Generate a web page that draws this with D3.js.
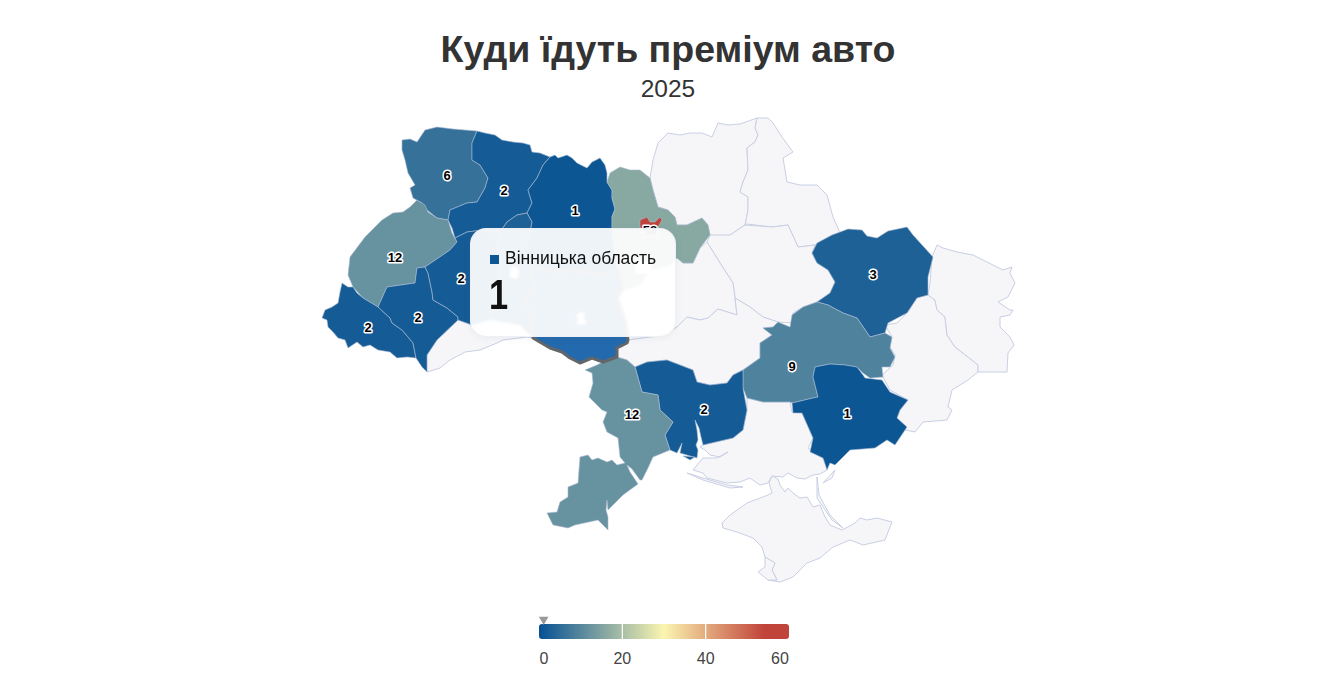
<!DOCTYPE html>
<html lang="uk"><head><meta charset="utf-8">
<script src="https://cdn.jsdelivr.net/npm/d3@7/dist/d3.min.js"></script>
<style>
html,body{margin:0;padding:0;background:#fff;overflow:hidden}
body{width:1323px;height:689px;position:relative;font-family:"Liberation Sans",Arial,sans-serif}
svg{position:absolute;left:0;top:0}
#tip{position:absolute;left:470px;top:228px;width:206px;height:109px;box-sizing:border-box;border-radius:16px;
background:rgba(255,255,255,.93);border:1px solid rgba(235,238,243,.9);box-shadow:0 1px 6px rgba(120,130,150,.10);
-webkit-backdrop-filter:blur(1px);backdrop-filter:blur(1px)}
#tip .mark{position:absolute;left:19px;top:26px;width:9px;height:9px}
#tip .name{position:absolute;left:34px;top:19px;font-size:17.5px;line-height:20px;color:#111;white-space:nowrap}
#tip .val{position:absolute;left:18px;top:43px;font-size:42px;line-height:46px;font-weight:700;color:#111;transform:scaleX(.82);transform-origin:left top}
</style></head><body>
<svg id="chart" width="1323" height="689"></svg>
<div id="tip"><span class="mark"></span><span class="name"></span><span class="val"></span></div>
<script>
const titleText = "Куди їдуть преміум авто";
const subtitleText = "2025";
const legendTicks = [0, 20, 40, 60];
const colorStops = [0, 30, 54, 60];
const colorRange = ["#055093", "#fbf5b0", "#c1443a", "#c1443a"];
const hovered = "Вінницька область";
const labelsUnderTooltip = ["Хмельницька область","Вінницька область","Київська область"];

const regionNames = ["Чернігівська область","Сумська область","Полтавська область","Черкаська область","Кіровоградська область","Херсонська область","Автономна Республіка Крим","Севастополь","Чернівецька область","Донецька область","Луганська область","Волинська область","Рівненська область","Житомирська область","Львівська область","Закарпатська область","Івано-Франківська область","Тернопільська область","Хмельницька область","Київська область","Харківська область","Дніпропетровська область","Запорізька область","Миколаївська область","Одеська область","Вінницька область","місто Київ"];
const regionValues = [null,null,null,null,null,null,null,null,null,null,null,6,2,1,12,2,2,2,3,16,3,9,1,2,12,1,58];

const regionLabelAt = {"Волинська область":[447,175],"Рівненська область":[504,190],"Житомирська область":[575,210],"Львівська область":[395,257],"Закарпатська область":[368,327],"Івано-Франківська область":[418,317],"Тернопільська область":[461,278],"Хмельницька область":[514,272],"Вінницька область":[581,318],"місто Київ":[650,230],"Київська область":[643,267],"Харківська область":[873,274],"Дніпропетровська область":[792,366],"Запорізька область":[847,413],"Миколаївська область":[704,409],"Одеська область":[632,414]};

// region outlines, map units
const regionOutlines = {
"Чернігівська область":[[[653,160],[658,143],[668,133],[680,135],[690,133],[702,133],[712,137],[718,123],[728,125],[740,124],[757,118],[755,128],[758,135],[755,142],[747,148],[748,170],[743,182],[740,192],[748,197],[748,210],[745,225],[730,235],[720,236],[710,235],[708,225],[702,218],[687,225],[677,225],[675,217],[668,210],[658,207],[653,190],[650,178]]],
"Сумська область":[[[757,118],[768,118],[773,123],[782,137],[793,152],[783,158],[787,182],[800,185],[817,185],[827,195],[833,217],[840,233],[832,235],[815,245],[798,247],[788,225],[772,227],[747,224],[745,225],[748,210],[748,197],[740,192],[743,182],[748,170],[747,148],[755,142],[758,135],[755,128]]],
"Полтавська область":[[[710,235],[730,235],[745,225],[772,227],[788,225],[798,247],[815,245],[812,253],[817,263],[828,270],[835,282],[830,293],[817,302],[803,307],[793,313],[792,323],[778,322],[763,317],[750,307],[735,298],[733,283],[720,263],[707,242]]],
"Черкаська область":[[[700,248],[693,263],[683,263],[677,258],[670,265],[650,270],[640,285],[625,290],[622,290],[617,298],[625,320],[628,340],[650,337],[665,335],[677,327],[687,317],[700,320],[708,318],[718,309],[737,315],[735,298],[733,283],[720,263],[707,242]]],
"Кіровоградська область":[[[628,340],[650,337],[665,335],[677,327],[687,317],[700,320],[708,318],[718,309],[737,315],[735,298],[750,307],[763,317],[778,322],[773,327],[763,328],[772,335],[760,343],[760,358],[743,370],[733,375],[727,383],[710,385],[697,382],[693,370],[680,365],[667,360],[647,362],[635,367],[627,360],[617,357],[617,348],[627,343]]],
"Херсонська область":[[[747,398],[763,402],[790,402],[792,412],[802,413],[813,438],[808,448],[825,460],[827,470],[820,474],[813,475],[805,479],[797,478],[788,473],[783,477],[772,476],[768,483],[760,485],[750,478],[740,482],[727,483],[707,478],[703,473],[693,470],[697,465],[703,458],[717,458],[728,452],[720,457],[710,455],[705,450],[700,447],[703,445],[733,438],[743,430],[747,410]]],
"Автономна Республіка Крим":[[[722,523],[730,515],[747,503],[768,495],[772,493],[769,483],[772,476],[778,479],[780,485],[785,492],[788,488],[793,493],[800,498],[807,497],[813,507],[820,505],[825,517],[830,525],[842,530],[855,523],[860,518],[867,520],[877,518],[892,522],[885,540],[863,545],[850,540],[833,547],[820,558],[807,563],[793,577],[780,582],[768,580],[777,580],[772,570],[775,563],[765,557],[762,547],[753,538],[737,532],[723,528]],[[817,477],[819,495],[830,515],[843,528],[832,520],[817,498]],[[687,473],[703,478],[727,485],[743,487],[730,488],[703,480]],[[823,483],[835,470],[832,478]]],
"Севастополь":[[[765,557],[775,563],[772,570],[777,580],[768,580],[758,572],[765,567]]],
"Чернівецька область":[[[427,372],[427,355],[437,340],[458,320],[472,325],[490,320],[520,325],[533,338],[527,337],[503,340],[497,343],[480,350],[465,352],[450,360],[440,368]]],
"Донецька область":[[[885,325],[897,323],[908,312],[917,297],[928,295],[935,300],[937,310],[945,317],[947,335],[955,347],[968,357],[978,365],[978,372],[968,380],[952,390],[948,407],[952,410],[947,420],[923,422],[915,432],[905,430],[903,425],[897,418],[900,410],[908,400],[890,390],[882,375],[893,365],[895,355],[890,347],[892,337]]],
"Луганська область":[[[928,295],[930,283],[932,257],[937,245],[943,248],[957,252],[973,255],[987,262],[1003,270],[1012,267],[1010,273],[1015,283],[1008,297],[998,302],[1010,310],[1013,310],[1010,315],[1000,317],[1000,327],[1010,337],[1014,345],[1008,353],[1007,372],[978,372],[978,365],[968,357],[955,347],[947,335],[945,317],[937,310],[935,300]]],
"Волинська область":[[[402,140],[410,139],[417,142],[425,130],[437,127],[453,129],[477,131],[472,143],[472,160],[480,165],[488,178],[485,188],[477,202],[467,203],[450,210],[448,220],[437,218],[427,210],[422,203],[413,198],[410,188],[415,185],[408,173],[405,160],[402,150]]],
"Рівненська область":[[[477,131],[485,133],[495,135],[502,140],[513,142],[523,143],[530,145],[532,152],[540,153],[550,157],[543,165],[537,178],[528,190],[532,203],[527,213],[517,215],[507,222],[500,232],[483,230],[467,232],[455,238],[452,228],[448,220],[450,210],[467,203],[477,202],[485,188],[488,178],[480,165],[472,160],[472,143]]],
"Житомирська область":[[[550,157],[555,155],[558,158],[567,155],[572,158],[577,163],[587,168],[592,162],[600,158],[605,165],[607,173],[607,182],[612,190],[612,198],[615,209],[612,217],[612,227],[614,250],[618,270],[600,275],[575,270],[555,272],[530,265],[522,250],[528,240],[532,222],[527,213],[532,203],[528,190],[537,178],[543,165]]],
"Львівська область":[[[410,207],[417,200],[425,205],[428,212],[437,218],[448,220],[452,233],[457,242],[450,250],[428,265],[425,267],[417,268],[415,283],[387,287],[378,307],[363,298],[353,287],[348,275],[350,257],[365,237],[382,220],[393,213],[403,212]]],
"Закарпатська область":[[[322,318],[325,310],[332,307],[338,303],[340,292],[342,283],[348,287],[353,287],[357,293],[363,298],[378,307],[390,318],[392,323],[402,330],[408,337],[413,343],[416,358],[407,357],[397,358],[390,352],[378,350],[370,345],[363,347],[357,342],[348,348],[345,340],[338,338],[333,332],[328,327],[327,320]]],
"Івано-Франківська область":[[[378,307],[387,287],[415,283],[417,268],[425,267],[428,273],[432,292],[433,300],[447,308],[458,317],[458,320],[437,340],[427,355],[427,372],[422,367],[416,358],[413,343],[408,337],[402,330],[392,323],[390,318]]],
"Тернопільська область":[[[455,238],[467,232],[483,230],[500,232],[497,250],[500,270],[497,290],[490,320],[472,325],[458,320],[458,317],[447,308],[433,300],[432,292],[428,273],[425,267],[428,265],[450,250],[457,242]]],
"Хмельницька область":[[[500,232],[507,222],[517,215],[527,213],[532,222],[528,240],[522,250],[530,265],[535,285],[525,300],[532,320],[533,338],[520,325],[490,320],[497,290],[500,270],[497,250]]],
"Київська область":[[[607,182],[610,173],[620,167],[630,170],[640,170],[650,178],[653,190],[658,207],[668,210],[675,217],[677,225],[687,225],[702,218],[708,225],[710,235],[700,248],[693,263],[683,263],[677,258],[670,265],[650,270],[640,285],[625,290],[622,290],[618,270],[614,250],[612,227],[612,217],[615,209],[612,198],[612,190]]],
"Харківська область":[[[812,253],[817,243],[832,235],[848,229],[862,230],[867,236],[877,238],[888,231],[907,227],[913,235],[933,257],[928,277],[928,295],[917,298],[907,313],[888,323],[885,333],[870,337],[857,318],[843,313],[828,305],[817,302],[830,293],[835,282],[828,270],[817,263]]],
"Дніпропетровська область":[[[763,328],[773,327],[778,322],[790,327],[792,315],[803,307],[817,302],[828,305],[843,313],[857,318],[870,337],[885,333],[892,337],[890,348],[895,357],[890,367],[882,367],[883,377],[870,378],[863,373],[857,367],[845,365],[830,364],[815,367],[813,377],[818,397],[813,398],[792,403],[790,402],[763,402],[747,398],[743,388],[743,370],[760,358],[760,343],[772,335]]],
"Запорізька область":[[[792,403],[813,398],[818,397],[813,377],[815,367],[830,364],[845,365],[857,367],[863,375],[865,378],[882,380],[890,392],[908,400],[900,410],[897,418],[907,427],[895,445],[887,440],[875,448],[850,450],[835,465],[830,463],[827,470],[823,458],[810,452],[813,438],[802,413],[793,413]]],
"Миколаївська область":[[[635,367],[647,362],[667,360],[680,365],[693,370],[697,382],[710,385],[727,383],[733,375],[743,370],[743,388],[747,410],[743,430],[733,438],[703,445],[701,437],[699,428],[695,420],[697,430],[698,440],[696,445],[698,450],[697,458],[680,453],[682,443],[677,453],[670,450],[665,435],[673,422],[660,410],[658,395],[642,392]],[[683,456],[695,457],[690,460]]],
"Одеська область":[[[597,365],[603,362],[617,357],[627,360],[635,367],[642,392],[658,395],[660,410],[673,422],[665,435],[670,450],[653,457],[648,468],[642,480],[640,480],[632,469],[627,465],[630,472],[638,484],[623,495],[613,505],[608,510],[607,500],[606,510],[608,517],[608,530],[605,527],[598,520],[575,525],[568,528],[553,525],[547,513],[557,512],[560,502],[568,497],[568,487],[578,483],[580,457],[588,455],[592,460],[598,458],[607,462],[612,460],[617,465],[625,463],[620,457],[618,438],[607,432],[603,422],[607,412],[602,410],[589,397],[593,383],[592,373],[585,370]]],
"Вінницька область":[[[530,265],[555,272],[575,270],[600,275],[618,270],[622,290],[617,298],[625,320],[628,340],[627,343],[617,348],[617,357],[603,362],[592,358],[580,363],[570,358],[562,352],[550,348],[533,338],[532,320],[525,300],[535,285]]],
"місто Київ":[[[640,227],[640,220],[647,217],[650,222],[655,222],[660,217],[662,220],[658,227],[657,235],[652,238],[643,235]]]
};

const svg = d3.select("#chart");
const color = d3.scaleLinear().domain(colorStops).range(colorRange).clamp(true);
const projection = d3.geoIdentity();
const path = d3.geoPath(projection);

const rows = regionNames.map((name,i)=>({
  name, value: regionValues[i],
  feature:{type:"Feature",geometry:{type:"MultiPolygon",coordinates:regionOutlines[name].map(r=>[r.concat([r[0]])])}}
}));

svg.append("text").attr("x",668).attr("y",62).attr("text-anchor","middle")
  .attr("font-size",37.5).attr("font-weight",700).attr("fill","#333").text(titleText);
svg.append("text").attr("x",668).attr("y",97).attr("text-anchor","middle")
  .attr("font-size",24.5).attr("fill","#333").text(subtitleText);

const map = svg.append("g");
const ordered = rows.filter(d=>d.name!==hovered).sort((a,b)=>(a.value!=null)-(b.value!=null));
map.selectAll("path.region").data(ordered).join("path").attr("class","region")
  .attr("d",d=>path(d.feature))
  .attr("fill",d=>d.value==null?"#f6f6f8":color(d.value))
  .attr("stroke",d=>d.value==null?"#c9d0e4":"#a9bbd3")
  .attr("stroke-width",d=>d.value==null?1:.6).attr("stroke-linejoin","round");
map.selectAll("path.hover").data(rows.filter(d=>d.name===hovered)).join("path").attr("class","hover")
  .attr("d",d=>path(d.feature))
  .attr("fill","#2369ad").attr("stroke","#636669").attr("stroke-width",3).attr("stroke-linejoin","round");

const labelled = rows.filter(d=>d.value!=null);
map.selectAll("text.lab").data(labelled).join("text").attr("class","lab")
  .attr("transform",d=>`translate(${projection(regionLabelAt[d.name])})`)
  .attr("text-anchor","middle").attr("dy","0.36em")
  .attr("font-size",13).attr("font-weight",700)
  .attr("paint-order","stroke").attr("stroke","#fff").attr("stroke-width",3).attr("stroke-linejoin","round")
  .attr("fill",d=>labelsUnderTooltip.includes(d.name)?"#fff":"#000").text(d=>d.value);

// legend
const legendX = d3.scaleLinear().domain([0,60]).range([539,789]);
const gradient = svg.append("defs").append("linearGradient").attr("id","legendGrad");
gradient.selectAll("stop").data(colorStops).join("stop")
  .attr("offset",d=>d/60).attr("stop-color",d=>color(d));
const legend = svg.append("g");
legend.append("rect").attr("x",legendX(0)).attr("y",624).attr("width",legendX(60)-legendX(0)).attr("height",15)
  .attr("rx",3).attr("fill","url(#legendGrad)");
legend.selectAll("line").data(legendTicks.slice(1,-1)).join("line")
  .attr("x1",d=>legendX(d)).attr("x2",d=>legendX(d)).attr("y1",624).attr("y2",639)
  .attr("stroke","#fff").attr("stroke-width",1.2);
legend.selectAll("text").data(legendTicks).join("text")
  .attr("x",d=>d===0?legendX(d)+5:d===60?legendX(d)-9:legendX(d)).attr("y",664)
  .attr("text-anchor","middle").attr("font-size",16).attr("fill","#444").text(d=>d);
const hv = regionValues[regionNames.indexOf(hovered)];
legend.append("path").attr("d",d3.symbol(d3.symbolTriangle,40)())
  .attr("transform",`translate(${legendX(hv)+0.5},619.5) rotate(180)`).attr("fill","#999");

// tooltip
const tip = d3.select("#tip");
tip.select(".mark").style("background",color(hv));
tip.select(".name").text(hovered);
tip.select(".val").text(hv);
</script>
</body></html>
